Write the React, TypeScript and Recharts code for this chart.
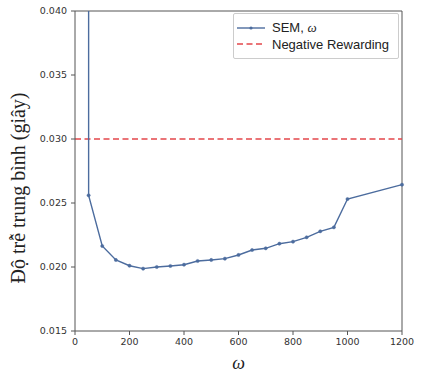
import React from "react";
import { LineChart, Line, XAxis, YAxis, ReferenceLine } from "recharts";

// ω values (the first point is off the top of the chart)
const omegaValues = [50, 50, 100, 150, 200, 250, 300, 350, 400, 450, 500, 550, 600, 650, 700, 750, 800, 850, 900, 950, 1000, 1200];
const semDelay = [0.08, 0.0256, 0.02164, 0.02055, 0.0201, 0.01987, 0.02, 0.02008, 0.02018, 0.02047, 0.02055, 0.02065, 0.02094, 0.02133, 0.02146, 0.02182, 0.02198, 0.02232, 0.02279, 0.0231, 0.02531, 0.02643];
const negativeRewardingDelay = 0.03;
const xTicks = [0, 200, 400, 600, 800, 1000, 1200];
const yTicks = [0.015, 0.02, 0.025, 0.03, 0.035, 0.04];
const xDomain = [0, 1200];
const yDomain = [0.015, 0.04];

const seriesName = "SEM, ω";
const refName = "Negative Rewarding";
const yLabel = "Độ trễ trung bình (giây)";
const xLabel = "ω";

const data = omegaValues.map((w, i) => ({ w, sem: semDelay[i] }));

const LINE_COLOR = "#4c6c9e";
const RED = "#e3474b";
const AXIS = "#555";

const YLabel = (props: any) => {
  const vb = props.viewBox || { x: 0, y: 0, width: 0, height: 0 };
  const cx = vb.x + 18;
  const cy = vb.y + vb.height / 2 + 17;
  return (
    <text
      x={cx}
      y={cy}
      transform={`rotate(-90, ${cx}, ${cy})`}
      textAnchor="middle"
      dominantBaseline="central"
      fontFamily="'Liberation Serif', 'Times New Roman', serif"
      fontSize={20}
      fill="#222"
    >
      {yLabel}
    </text>
  );
};

const XLabel = (props: any) => {
  const vb = props.viewBox || { x: 0, y: 0, width: 0, height: 0 };
  return (
    <text
      x={vb.x + vb.width / 2}
      y={vb.y + 32}
      textAnchor="middle"
      dominantBaseline="central"
      fontFamily="'Liberation Serif', 'Times New Roman', serif"
      fontStyle="italic"
      fontSize={18}
      fill="#222"
    >
      {xLabel}
    </text>
  );
};

export default function App() {
  return (
    <div style={{ position: "absolute", left: 0, top: 0, width: 442, height: 378, background: "#fff" }}>
      <LineChart
        width={442}
        height={378}
        data={data}
        margin={{ top: 11, right: 40, bottom: 0, left: 0 }}
        style={{ fontFamily: "'DejaVu Sans', sans-serif" }}
      >
        <XAxis
          dataKey="w"
          type="number"
          domain={xDomain}
          ticks={xTicks}
          height={47}
          tickSize={4}
          tickMargin={3}
          tick={{ fontSize: 9.5, fill: "#333" }}
          stroke={AXIS}
          label={<XLabel />}
        />
        <YAxis
          type="number"
          domain={yDomain}
          allowDataOverflow
          ticks={yTicks}
          width={75}
          tickSize={4}
          tickMargin={4}
          tickFormatter={(v: number) => v.toFixed(3)}
          tick={{ fontSize: 9.5, fill: "#333" }}
          stroke={AXIS}
          label={<YLabel />}
        />
        <ReferenceLine y={yDomain[1]} stroke={AXIS} strokeWidth={1} ifOverflow="visible" />
        <ReferenceLine x={xDomain[1]} stroke={AXIS} strokeWidth={1} ifOverflow="visible" />
        <ReferenceLine
          y={negativeRewardingDelay}
          stroke={RED}
          strokeWidth={1.5}
          strokeDasharray="6 3.5"
        />
        <Line
          type="linear"
          dataKey="sem"
          name={seriesName}
          stroke={LINE_COLOR}
          strokeWidth={1.4}
          dot={{ r: 1.6, fill: LINE_COLOR, stroke: LINE_COLOR, strokeWidth: 0.5 }}
          activeDot={false}
          isAnimationActive={false}
        />
      </LineChart>
      <div
        style={{
          position: "absolute",
          left: 233,
          top: 13,
          width: 166,
          height: 46,
          border: "1px solid #ccc",
          borderRadius: 2,
          background: "#fff",
          boxSizing: "border-box",
          fontFamily: "'Liberation Sans', Arial, sans-serif",
          fontSize: 13,
          color: "#222",
        }}
      >
        <div style={{ position: "absolute", left: 3, top: 6, display: "flex", alignItems: "center", height: 16 }}>
          <svg width={28} height={16}>
            <line x1={0} y1={8} x2={28} y2={8} stroke={LINE_COLOR} strokeWidth={1.4} />
            <circle cx={14} cy={8} r={1.6} fill={LINE_COLOR} />
          </svg>
          <span style={{ marginLeft: 7, whiteSpace: "nowrap" }}>
            SEM, <i style={{ fontFamily: "'Liberation Serif', serif" }}>ω</i>
          </span>
        </div>
        <div style={{ position: "absolute", left: 3, top: 22, display: "flex", alignItems: "center", height: 16 }}>
          <svg width={28} height={16}>
            <line x1={0} y1={8} x2={28} y2={8} stroke={RED} strokeWidth={1.5} strokeDasharray="6 3.5" />
          </svg>
          <span style={{ marginLeft: 7, whiteSpace: "nowrap" }}>{refName}</span>
        </div>
      </div>
    </div>
  );
}
